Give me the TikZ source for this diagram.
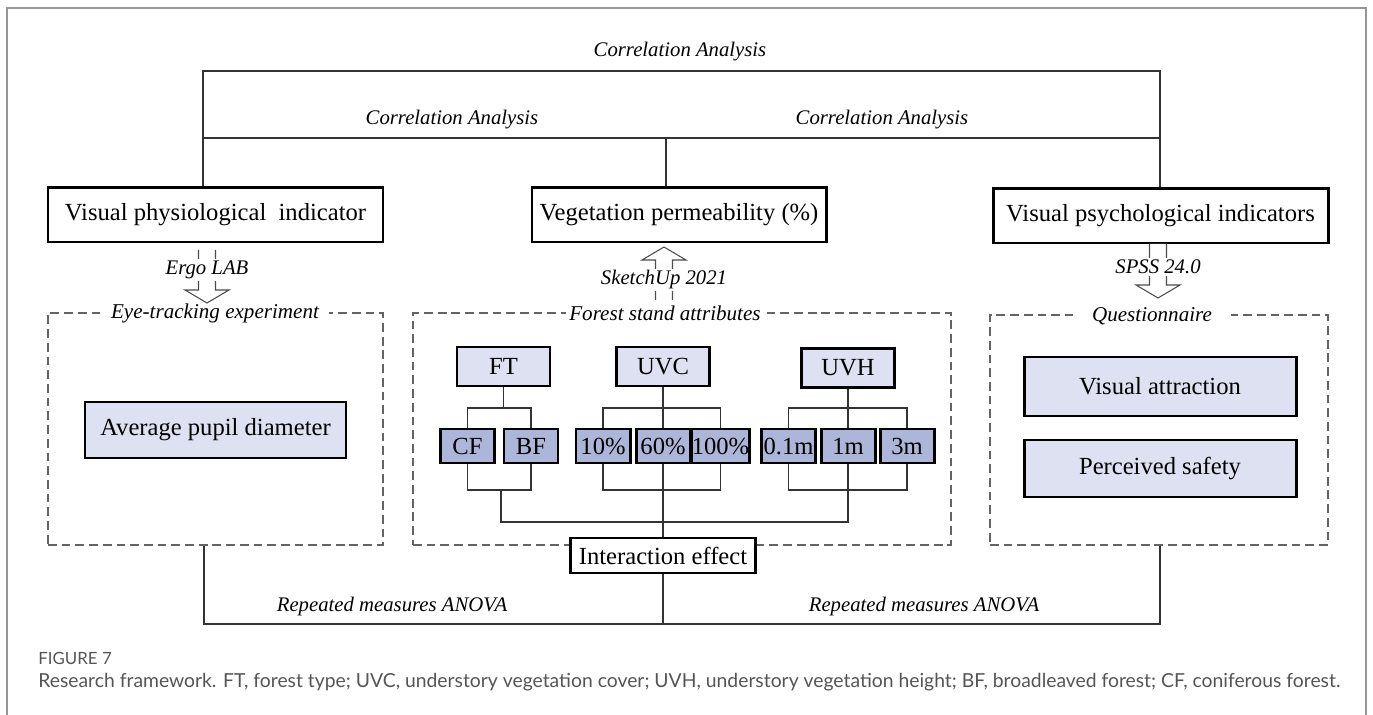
\documentclass[tikz,border=0pt]{standalone}
\usepackage{fontspec}
\setmainfont{Liberation Serif}
\newfontfamily\capfont{Lato}
\usetikzlibrary{calc}

\newcommand\pxu{0.02cm}
\definecolor{boxlight}{RGB}{222,225,242}
\definecolor{boxdark}{RGB}{172,182,216}
\definecolor{dashgray}{RGB}{100,100,100}
\definecolor{capgray}{RGB}{85,85,85}
\definecolor{framegray}{RGB}{150,150,150}

\begin{document}
\begin{tikzpicture}[x=0.02cm, y=-0.02cm,
		mainbox/.style={draw, line width=1.7pt, fill=white, inner sep=0pt, font=\fontsize{14}{16}\selectfont},
		lightbox/.style={mainbox, fill=boxlight},
		darkbox/.style={mainbox, fill=boxdark, minimum width=54*\pxu, minimum height=34*\pxu},
		groupbox/.style={draw=dashgray, line width=1.2pt, dash pattern=on 5pt off 2.8pt, inner sep=0pt},
		grouptitle/.style={fill=white, inner sep=2pt, font=\itshape\fontsize{12}{14}\selectfont},
		method/.style={font=\itshape\fontsize{11.8}{13}\selectfont},
		link/.style={line width=0.7pt, draw=black!80},
		hollow/.style={draw=black!70, line width=0.6pt, fill=white}]
		\useasboundingbox (0,0) rectangle (1373,715);
		\draw[framegray, line width=1.2pt] (7,715) -- (7,8) -- (1366,8) -- (1366,715);
		% indicators
		\node[mainbox, minimum width=335*\pxu, minimum height=54*\pxu] (phys) at (215.5,215) {Visual physiological\ \ indicator};
		\node[mainbox, minimum width=294*\pxu, minimum height=54*\pxu] (perm) at (679,215) {Vegetation permeability (\%)};
		\node[mainbox, minimum width=335*\pxu, minimum height=54*\pxu] (psych) at (1160.5,216) {Visual psychological indicators};
		% correlation lines
		\coordinate (topL) at (203,71); \coordinate (topR) at (1160,71);
		\coordinate (midL) at (203,138); \coordinate (midR) at (1160,138); \coordinate (midC) at (666,138);
		\draw[link] (topL |- phys.north) -- (topL) -- (topR) -- (topR |- psych.north);
		\draw[link] (midL) -- (midR);
		\draw[link] (midC) -- (midC |- perm.north);
		\node[method] (corrT) at (680,52) {Correlation Analysis};
		\node[method] (corrL) at (452,120) {Correlation Analysis};
		\node[method] (corrR) at (882,120) {Correlation Analysis};
		% dashed groups
		\node[groupbox, minimum width=335*\pxu, minimum height=232*\pxu] (eye) at (215.5,429) {};
		\node[groupbox, minimum width=538*\pxu, minimum height=232*\pxu] (forest) at (682,429) {};
		\node[groupbox, minimum width=338*\pxu, minimum height=230*\pxu] (quest) at (1159,430) {};
		\node[grouptitle, inner xsep=6pt] (eyeT) at (215,313) {Eye-tracking experiment};
		\node[grouptitle] (forestT) at (665,313) {Forest stand attributes};
		\node[grouptitle, inner xsep=11pt] (questT) at (1152,316) {Questionnaire};
		% hollow arrows
		\foreach \ax/\ya/\yb/\s in {207/250/303/1, 664/300/247/-1, 1158/244/298/1}
			\draw[hollow] ({\ax-8.5},\ya) -- ({\ax-8.5},{\yb-13*\s}) -- ({\ax-22},{\yb-13*\s}) -- (\ax,\yb)
				-- ({\ax+22},{\yb-13*\s}) -- ({\ax+8.5},{\yb-13*\s}) -- ({\ax+8.5},\ya);
		\node[method, fill=white, inner sep=1pt] (ergo) at (207,270) {Ergo LAB};
		\node[method, fill=white, inner sep=1pt] (sketch) at (664,280) {SketchUp 2021};
		\node[method, fill=white, inner sep=1pt] (spss) at (1158,267) {SPSS 24.0};
		% measures
		\node[lightbox, minimum width=261*\pxu, minimum height=56*\pxu] (pupil) at (215.5,430) {Average pupil diameter};
		\node[lightbox, minimum width=272*\pxu, minimum height=59*\pxu] (attr) at (1160,386.5) {Visual attraction};
		\node[lightbox, minimum width=272*\pxu, minimum height=57*\pxu] (safe) at (1160,468.5) {Perceived safety};
		% stand attributes
		\node[lightbox, minimum width=93*\pxu, minimum height=39*\pxu] (ft) at (503.5,366.5) {FT};
		\node[lightbox, minimum width=93*\pxu, minimum height=39*\pxu] (uvc) at (663,366.5) {UVC};
		\node[lightbox, minimum width=93*\pxu, minimum height=39*\pxu] (uvh) at (848,368) {UVH};
		\foreach \nm/\xc/\lab in {cf/467.5/CF, bf/531/BF, p10/603/10\%, p60/663/60\%, p100/720.5/100\%,
			m01/788.5/0.1m, m1/848/1m, m3/907/3m}
			\node[darkbox] (\nm) at (\xc,446) {\lab};
		\coordinate (up) at (0,408); \coordinate (dn) at (0,490); \coordinate (lo) at (0,522);
		\foreach \p/\a/\b in {ft/cf/bf, uvc/p10/p100, uvh/m01/m3} {
			\draw[link] (\a.north) |- (up -| \b) -- (\b.north);
			\draw[link] (\p.south) -- (\p |- up);
			\draw[link] (\a.south) |- (dn -| \b) -- (\b.south);
		}
		\draw[link] (uvc |- up) -- (p60.north);
		\draw[link] (uvh |- up) -- (m1.north);
		\coordinate (ftj) at (501,490);
		\draw[link] (ftj) -- (ftj |- lo) -- (m1 |- lo) -- (m1.south);
		% interaction and ANOVA
		\node[mainbox, minimum width=185*\pxu, minimum height=35*\pxu] (inter) at (663,555.5) {Interaction effect};
		\draw[link] (p60.south) -- (inter.north);
		\coordinate (botL) at (204,624); \coordinate (botR) at (1160,624);
		\draw[link] (botL |- eye.south) -- (botL) -- (botR) -- (botR |- quest.south);
		\draw[link] (inter.south) -- (inter.south |- botL);
		\node[method] (anovaL) at (392,607) {Repeated measures ANOVA};
		\node[method] (anovaR) at (924,607) {Repeated measures ANOVA};
		% caption
		\node[anchor=west, inner sep=0pt, text=capgray, font=\capfont\fontsize{9.6}{11}\selectfont] (fig) at (38,658) {FIGURE 7};
		\node[anchor=west, inner sep=0pt, text=capgray, font=\capfont\fontsize{11}{13}\selectfont] (cap) at (38,682)
			{Research framework. FT, forest type; UVC, understory vegetation cover; UVH, understory vegetation height; BF, broadleaved forest; CF, coniferous forest.};
	\end{tikzpicture}
\end{document}
